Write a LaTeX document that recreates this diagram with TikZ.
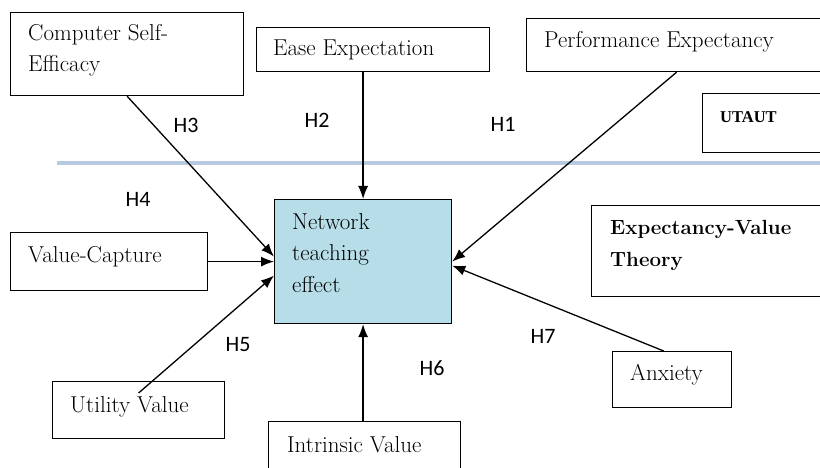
\documentclass[tikz,border=0pt]{standalone}
\usepackage{fontspec}
\newfontfamily\hfont{Carlito}
\newfontfamily\utfont{Liberation Serif}
\usetikzlibrary{arrows.meta,calc}
\definecolor{sepblue}{RGB}{184,202,226}
\definecolor{netfill}{RGB}{183,221,232}
\begin{document}
\begin{tikzpicture}[x=1pt,y=-1pt,
  box/.style={draw,line width=1.2pt,rectangle,anchor=north west,inner sep=0pt},
  txt/.style={anchor=base west,inner sep=0pt,align=left,font=\fontsize{23}{31.5}\selectfont},
  arr/.style={-{Latex[length=13pt,width=10pt]},line width=1.3pt},
  hyp/.style={font=\hfont\fontsize{22}{26}\selectfont}]
\useasboundingbox (0,0) rectangle (820,468);
\coordinate (sepL) at (57,163);
\coordinate (sepR) at (822,163);
\draw[sepblue,line width=4pt] (sepL) -- (sepR);
% boxes
\node[box,minimum width=233pt,minimum height=83pt] (cse) at (10,12) {};
\node[box,minimum width=233pt,minimum height=44pt] (ease) at (256,27) {};
\node[box,minimum width=300pt,minimum height=53pt] (perf) at (526,18) {};
\node[box,minimum width=125pt,minimum height=59pt] (utaut) at (702,93) {};
\node[box,minimum width=235pt,minimum height=91pt] (evt) at (591,205) {};
\node[box,minimum width=177pt,minimum height=124pt,fill=netfill] (net) at (274,199) {};
\node[box,minimum width=197pt,minimum height=58pt] (vc) at (10,232) {};
\node[box,minimum width=172pt,minimum height=57pt] (util) at (52,381) {};
\node[box,minimum width=192pt,minimum height=50pt] (intr) at (268,421) {};
\node[box,minimum width=119pt,minimum height=56pt] (anx) at (612,351) {};
% box texts (anchor at baseline of the last line)
\node[txt] (cset) at (28,72) {Computer Self-\\Efficacy};
\node[txt] (easet) at (273,56) {Ease Expectation};
\node[txt] (perft) at (544,48) {Performance Expectancy};
\node[txt,font=\utfont\fontsize{16.5}{18}\selectfont\bfseries] (utautt) at (720,123) {UTAUT};
\node[txt,font=\fontsize{20.5}{31.5}\selectfont\bfseries] (evtt) at (610,266) {Expectancy-Value\\Theory};
\node[txt] (nett) at (292,292) {Network\\teaching\\effect};
\node[txt] (vct) at (28,262) {Value-Capture};
\node[txt] (utilt) at (70,412) {Utility Value};
\node[txt] (intrt) at (287,452) {Intrinsic Value};
\node[txt] (anxt) at (630,380) {Anxiety};
% connectors
\coordinate (u5) at ([yshift=-12pt]util.north);
\coordinate (a7) at ($(anx.north west)!0.43!(anx.north east)$);
\draw[arr] (cse.south) -- ([yshift=5pt]net.west);
\draw[arr] (ease.south -| net.north) -- (net.north);
\draw[arr] (perf.south) -- (net.east);
\draw[arr] (vc.east) -- (vc.east -| net.west);
\draw[arr] (u5) -- ([yshift=-14pt]net.west);
\draw[arr] (intr.north -| net.south) -- (net.south);
\draw[arr] (a7) -- ([yshift=-4pt]net.east);
% hypothesis labels
\node[hyp] (h3) at (186,125) {H3};
\node[hyp] (h2) at (317,120) {H2};
\node[hyp] (h1) at (503,124) {H1};
\node[hyp] (h4) at (138,199) {H4};
\node[hyp] (h5) at (238,345) {H5};
\node[hyp] (h6) at (432,368) {H6};
\node[hyp] (h7) at (543,336) {H7};
\end{tikzpicture}
\end{document}
